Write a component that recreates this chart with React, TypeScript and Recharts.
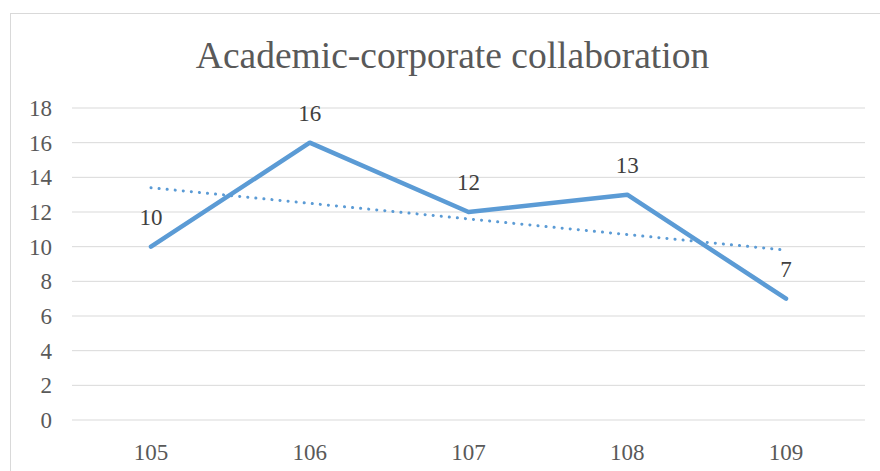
import React from "react";
import { LineChart, Line, XAxis, YAxis, CartesianGrid, LabelList } from "recharts";

const years = ["105", "106", "107", "108", "109"];
const collaborations = [10, 16, 12, 13, 7];
// linear trendline values
const trendValues = [13.4, 12.5, 11.6, 10.7, 9.8];
const yTicks = [0, 2, 4, 6, 8, 10, 12, 14, 16, 18];

const data = years.map((year, i) => ({
  year,
  value: collaborations[i],
  trend: trendValues[i],
}));

const FONT = '"Liberation Serif", "Times New Roman", serif';
const BLUE = "#5B9BD5";

const XTick = (props: any) => {
  const { x, y, payload } = props;
  return (
    <text
      x={x}
      y={y + 38}
      textAnchor="middle"
      fill="#595959"
      style={{ fontFamily: FONT, fontSize: 23 }}
    >
      {payload.value}
    </text>
  );
};

const YTick = (props: any) => {
  const { y, payload } = props;
  return (
    <text
      x={52}
      y={y + 8}
      textAnchor="end"
      fill="#595959"
      style={{ fontFamily: FONT, fontSize: 23 }}
    >
      {payload.value}
    </text>
  );
};

const ValueLabel = (props: any) => {
  const { x, y, value } = props;
  return (
    <text
      x={x}
      y={y - 22}
      textAnchor="middle"
      fill="#404040"
      style={{ fontFamily: FONT, fontSize: 23 }}
    >
      {value}
    </text>
  );
};

export default function App() {
  return (
    <div
      style={{
        position: "absolute",
        left: 0,
        top: 0,
        width: 880,
        height: 471,
        overflow: "hidden",
        background: "#fff",
        fontFamily: FONT,
      }}
    >
      {/* chart frame, runs off the right and bottom edges */}
      <div
        style={{
          position: "absolute",
          left: 10,
          top: 13,
          width: 900,
          height: 500,
          border: "1px solid #d9d9d9",
          boxSizing: "border-box",
        }}
      />
      <div
        style={{
          position: "absolute",
          left: 0,
          top: 38,
          width: 905,
          textAlign: "center",
          fontSize: 37.5,
          lineHeight: "36px",
          color: "#595959",
        }}
      >
        Academic-corporate collaboration
      </div>
      <div style={{ position: "absolute", left: 0, top: 0 }}>
        <LineChart
          width={880}
          height={471}
          data={data}
          margin={{ top: 108, right: 15, left: 0, bottom: 0 }}
        >
          <CartesianGrid vertical={false} stroke="#d9d9d9" strokeWidth={1} />
          <XAxis
            dataKey="year"
            height={51}
            padding={{ left: 79, right: 79 }}
            axisLine={false}
            tickLine={false}
            tickSize={0}
            tick={<XTick />}
          />
          <YAxis
            width={72}
            domain={[0, 18]}
            ticks={yTicks}
            interval={0}
            axisLine={false}
            tickLine={false}
            tickSize={0}
            tick={<YTick />}
          />
          <Line
            dataKey="trend"
            stroke={BLUE}
            strokeWidth={3}
            strokeDasharray="0.1 8"
            strokeLinecap="round"
            dot={false}
            activeDot={false}
            isAnimationActive={false}
          />
          <Line
            dataKey="value"
            stroke={BLUE}
            strokeWidth={4.5}
            strokeLinecap="round"
            strokeLinejoin="round"
            dot={false}
            activeDot={false}
            isAnimationActive={false}
          >
            <LabelList dataKey="value" content={<ValueLabel />} />
          </Line>
        </LineChart>
      </div>
    </div>
  );
}
